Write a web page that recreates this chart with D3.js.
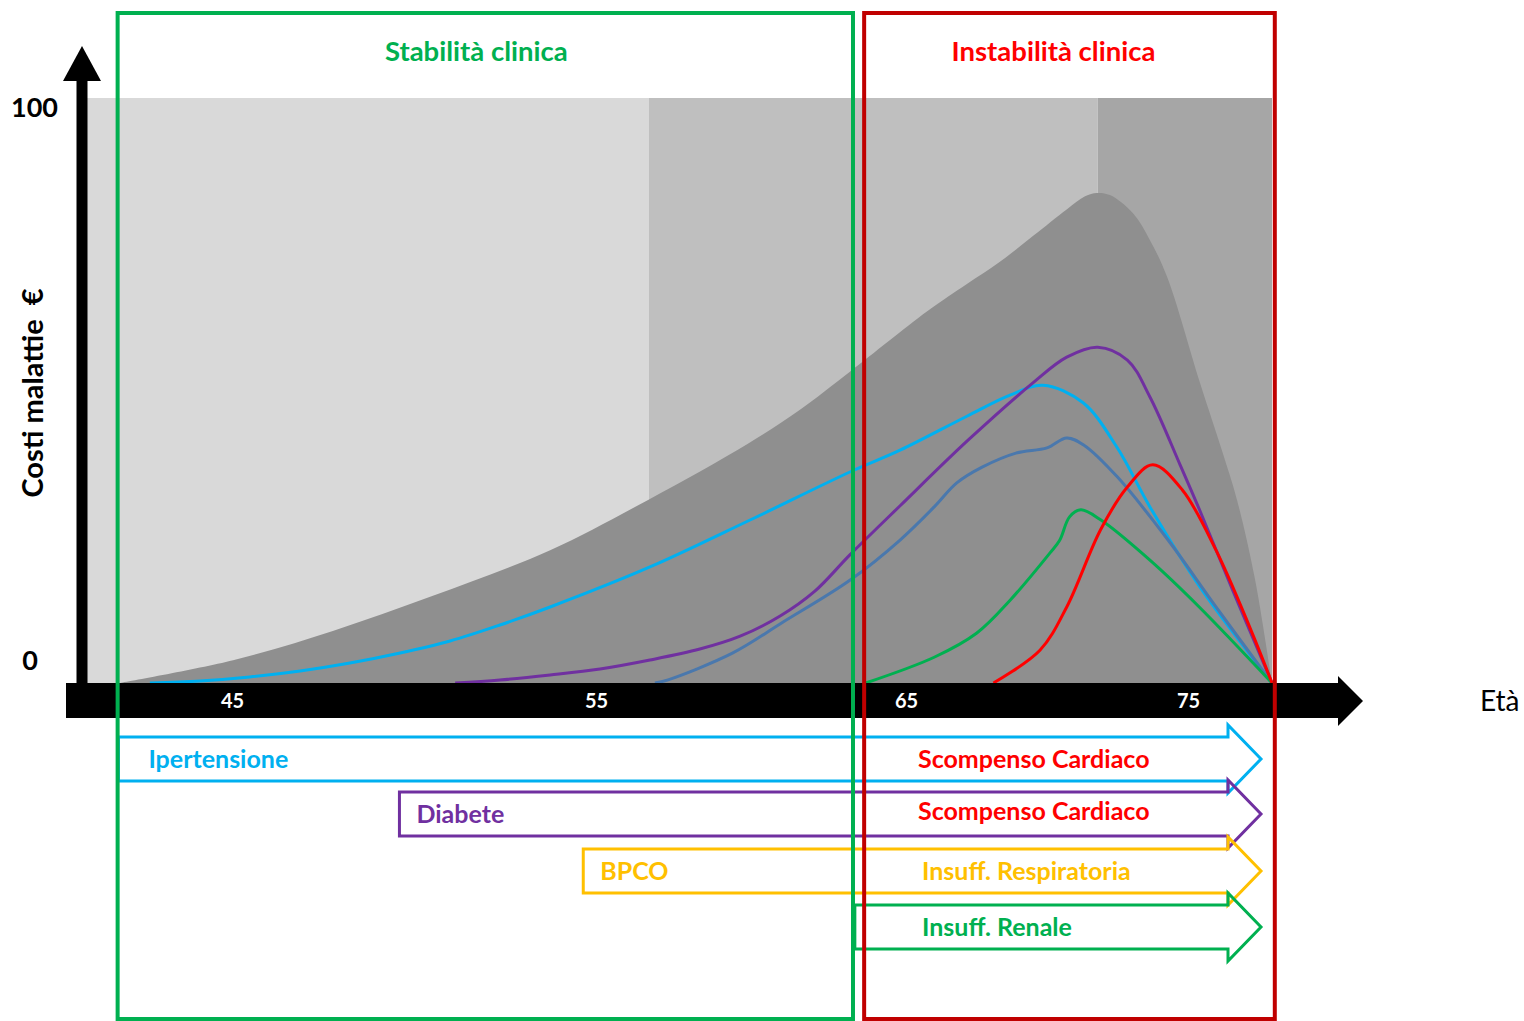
<!DOCTYPE html>
<html>
<head>
<meta charset="utf-8">
<script src="https://cdn.jsdelivr.net/npm/d3@7"></script>
<style>
  body { margin: 0; background: #fff; }
  svg text { font-family: Lato, "Open Sans", "Liberation Sans", sans-serif; }
</style>
</head>
<body>
<svg id="chart" width="1524" height="1021"></svg>
<script>
// ---- data -------------------------------------------------------------
const tickAges = [45, 55, 65, 75];
const yTickValues = [0, 100];

// shaded age bands behind the curves
const bandEdges = [41, 56.7, 71.8, 78];

// total cost of disease by age (grey area)
const costTotal = [
  [42.0, 0], [45.03, 3.9], [47.77, 8.9], [50.52, 14.9], [53.74, 22.7], [56.68, 31.3],
  [59.9, 40.9], [61.58, 46.7], [63.19, 53.2], [65.74, 63.5], [67.16, 68.2],
  [68.33, 72.0], [69.5, 76.4], [70.71, 81.0], [71.35, 83.2], [71.77, 83.76],
  [72.23, 83.4], [73.05, 80.3], [73.65, 75.7], [74.26, 69.4], [75.43, 51.3],
  [76.21, 39.8], [76.75, 31.3], [77.39, 17.8], [78.0, 0]
];

// cost curves by condition
const ipertensione = [
  [42.81, 0], [44.15, 0.34], [45.49, 1.03], [46.87, 2.05], [48.24, 3.42], [49.62, 5.13],
  [50.99, 7.18], [52.36, 9.91], [53.74, 12.99], [56.74, 19.83], [59.97, 27.86],
  [63.19, 36.07], [64.81, 39.8], [67.16, 45.6], [68.69, 49.2], [69.86, 50.9],
  [71.28, 47.9], [72.48, 40.3], [73.65, 30.1], [75.43, 16.4], [78.0, 0]
];
const diabete = [
  [51.13, 0], [52.36, 0.51], [53.74, 1.37], [55.13, 2.39], [56.74, 3.93], [58.35, 5.8],
  [59.65, 8.0], [60.94, 11.45], [62.06, 15.7], [63.19, 21.9], [64.81, 30.3], [67.2, 41.5],
  [69.5, 51.3], [70.7, 55.7], [71.8, 57.4], [72.85, 55.2], [73.65, 48.9],
  [74.72, 37.3], [75.43, 29.4], [76.61, 15.7], [78.0, 0]
];
const complessivo = [
  [56.9, 0], [57.3, 0.5], [59.4, 5.1], [61.0, 10.3], [63.2, 17.6], [64.8, 24.4],
  [66.0, 30.1], [66.8, 34.2], [67.7, 36.9], [68.9, 39.3], [70.0, 40.2],
  [70.7, 41.9], [71.3, 40.7], [72.5, 35.2], [74.3, 24.4], [76.0, 13.0], [78.0, 0]
];
const insuffRenale = [
  [63.7, 0], [66.0, 4.4], [67.5, 8.5], [68.7, 14.2], [70.1, 22.2], [70.45, 24.4],
  [70.8, 28.4], [71.2, 29.6], [71.9, 27.9], [73.65, 21.0], [75.4, 13.0], [78.0, 0]
];
const scompenso = [
  [68.1, 0], [69.75, 5.6], [70.7, 13.0], [71.9, 26.2], [72.85, 33.5], [73.75, 37.3],
  [74.8, 33.0], [76.0, 22.7], [77.2, 9.6], [78.0, 0]
];

// clinical phases (age ranges)
const phaseLabels = ["Stabilità clinica", "Instabilità clinica"];
const phaseFrom = [41.95, 63.65];
const phaseTo = [63.29, 78.1];

// disease progression arrows: onset age, chronic condition, resulting condition
const arrowOnset = [41.97, 49.6, 54.65, 63.35];
const arrowFrom = ["Ipertensione", "Diabete", "BPCO", ""];
const arrowTo = ["Scompenso Cardiaco", "Scompenso Cardiaco", "Insuff. Respiratoria", "Insuff. Renale"];

// ---- layout ------------------------------------------------------------
const svg = d3.select("#chart");

const x = d3.scaleLinear()
  .domain([41, 45, 55, 65, 75, 78])
  .range([82, 232, 596, 906, 1188, 1272]);
const y = d3.scaleLinear().domain([0, 100]).range([683, 98]);

const bandFill = ["#d9d9d9", "#bfbfbf", "#a6a6a6"];
const seriesStyle = [
  { data: ipertensione, color: "#00b0f0" },
  { data: diabete, color: "#7030a0" },
  { data: complessivo, color: "#4a78ad" },
  { data: insuffRenale, color: "#00b050" },
  { data: scompenso, color: "#ff0000" }
];
const arrowColor = ["#00b0f0", "#7030a0", "#ffc000", "#00b050"];
const arrowToColor = ["#ff0000", "#ff0000", "#ffc000", "#00b050"];
const phaseColor = ["#00b050", "#c00000"];
const phaseTextColor = ["#00b050", "#ff0000"];
const smooth = d3.curveCatmullRom.alpha(0.5);

// background bands
svg.append("g").selectAll("rect")
  .data(d3.pairs(bandEdges))
  .join("rect")
  .attr("x", d => x(d[0]))
  .attr("width", d => x(d[1]) - x(d[0]))
  .attr("y", y(100))
  .attr("height", y(0) - y(100))
  .attr("fill", (d, i) => bandFill[i]);

// total cost area
const area = d3.area()
  .x(d => x(d[0]))
  .y0(y(0))
  .y1(d => y(d[1]))
  .curve(smooth);
svg.append("path")
  .attr("d", area(costTotal))
  .attr("fill", "#8f8f8f");

// condition curves
const line = d3.line()
  .x(d => x(d[0]))
  .y(d => y(d[1]))
  .curve(smooth);
svg.append("g").selectAll("path")
  .data(seriesStyle)
  .join("path")
  .attr("d", d => line(d.data))
  .attr("fill", "none")
  .attr("stroke", d => d.color)
  .attr("stroke-width", 3)
  .attr("stroke-linejoin", "round");

// y axis: thick black arrow
const yAxisX = x(41);
svg.append("rect")
  .attr("x", yAxisX - 5.5).attr("width", 11)
  .attr("y", 80).attr("height", y(0) - 80 + 1)
  .attr("fill", "#000");
svg.append("path")
  .attr("d", `M${yAxisX - 19},81 L${yAxisX},46 L${yAxisX + 19},81 Z`)
  .attr("fill", "#000");

// x axis: thick black arrow bar
svg.append("path")
  .attr("d", `M66,${y(0)} H1338 V676 L1363,701 L1338,726 V718 H66 Z`)
  .attr("fill", "#000");

const xAxis = svg.append("g")
  .attr("transform", `translate(0,${y(0)})`)
  .call(d3.axisBottom(x).tickValues(tickAges).tickSize(0).tickPadding(11));
xAxis.select(".domain").remove();
xAxis.selectAll("text")
  .attr("fill", "#fff")
  .style("font-size", "20px")
  .style("font-weight", "bold")
  .style("font-family", "Lato, 'Open Sans', sans-serif");

// y tick labels
svg.append("g").selectAll("text")
  .data(yTickValues)
  .join("text")
  .attr("x", 58)
  .attr("y", d => d === 100 ? y(d) + 19 : y(d) - 13)
  .attr("text-anchor", "end")
  .attr("font-size", 27)
  .attr("font-weight", "bold")
  .attr("fill", "#000")
  .text(d => d)
  .filter(d => d === 0).attr("x", 38);

// axis titles
svg.append("text")
  .attr("transform", "translate(43,393) rotate(-90)")
  .attr("text-anchor", "middle")
  .attr("font-size", 29)
  .attr("font-weight", "bold")
  .attr("xml:space", "preserve")
  .style("white-space", "pre")
  .text("Costi malattie  €");
svg.append("text")
  .attr("x", 1480).attr("y", 711)
  .attr("font-size", 28)
  .text("Età");

// disease progression arrows
const rowTop = [737, 792, 849, 905];
const bodyH = 44, headPad = 12, headX = 1228, tipX = 1261;
const arrows = svg.append("g");
arrowOnset.forEach((a, i) => {
  const x0 = x(a), t = rowTop[i], b = t + bodyH, m = (t + b) / 2;
  arrows.append("path")
    .attr("d", `M${x0},${t} H${headX} V${t - headPad} L${tipX},${m} L${headX},${b + headPad} V${b} H${x0} Z`)
    .attr("fill", "none")
    .attr("stroke", arrowColor[i])
    .attr("stroke-width", 3);
  if (arrowFrom[i]) {
    arrows.append("text")
      .attr("x", x0 + (i === 0 ? 30 : 17))
      .attr("y", m + 9)
      .attr("font-size", 25)
      .attr("font-weight", "bold")
      .attr("fill", arrowColor[i])
      .text(arrowFrom[i]);
  }
  arrows.append("text")
    .attr("x", i === 0 || i === 1 ? 918 : 922)
    .attr("y", m + 9 + (i === 1 ? -3 : 0))
    .attr("font-size", 25)
    .attr("font-weight", "bold")
    .attr("fill", arrowToColor[i])
    .text(arrowTo[i]);
});

// clinical phase frames
phaseLabels.forEach((lab, i) => {
  const x0 = x(phaseFrom[i]), x1 = x(phaseTo[i]);
  svg.append("rect")
    .attr("x", x0).attr("y", 13)
    .attr("width", x1 - x0).attr("height", 1006)
    .attr("fill", "none")
    .attr("stroke", phaseColor[i])
    .attr("stroke-width", 4);
  svg.append("text")
    .attr("x", (x0 + x1) / 2 + (i === 0 ? -9 : -16))
    .attr("y", 61)
    .attr("text-anchor", "middle")
    .attr("font-size", 27.5)
    .attr("font-weight", "bold")
    .attr("fill", phaseTextColor[i])
    .text(lab);
});
</script>
</body>
</html>
